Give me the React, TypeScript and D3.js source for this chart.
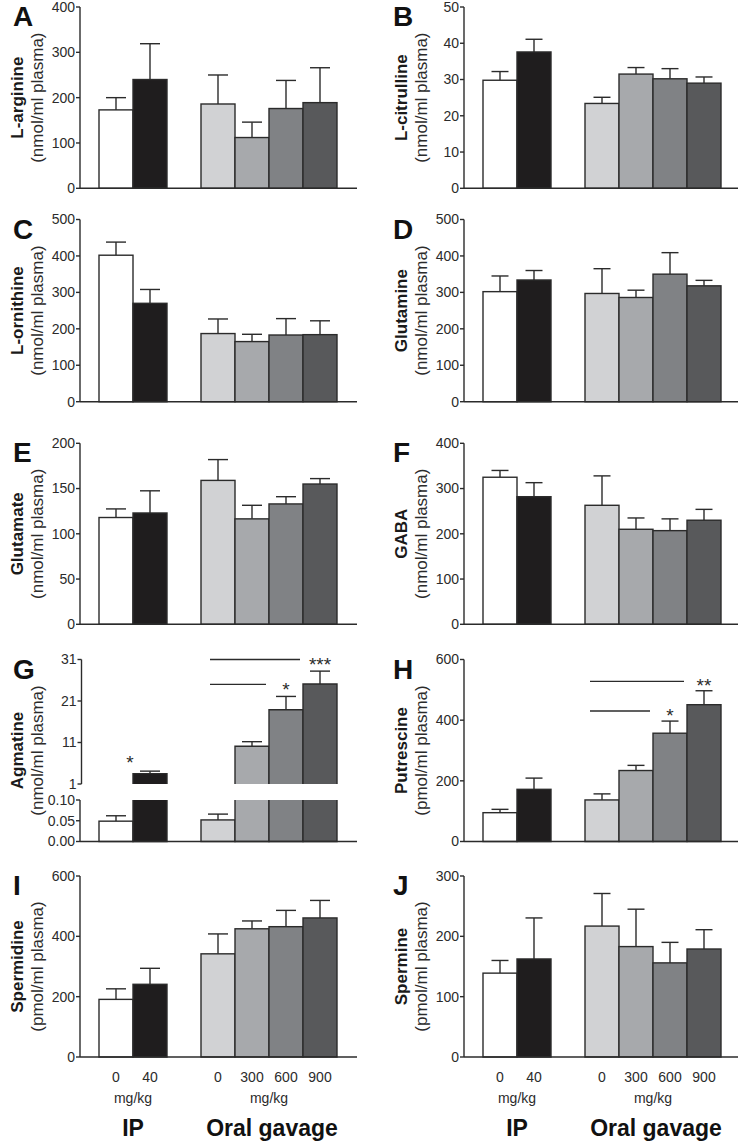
import React from "react";
import * as d3 from "d3";

// ---------------- data ----------------
const slots = ["IP 0", "IP 40", "gap", "Oral 0", "Oral 300", "Oral 600", "Oral 900"];
const groups = ["IP 0", "IP 40", "Oral 0", "Oral 300", "Oral 600", "Oral 900"];
const doseLabels = ["0", "40", "0", "300", "600", "900"];
const routeLabels = ["IP", "Oral gavage"];
const routeGroups = [["IP 0", "IP 40"], ["Oral 0", "Oral 300", "Oral 600", "Oral 900"]];
const unitLabel = "mg/kg";
const groupColors = ["#ffffff", "#1f1d1e", "#d1d2d4", "#a7a9ac", "#808285", "#58595b"];

const argMean = [173, 240, 186, 112, 176, 189];
const argSem = [27, 79, 64, 34, 62, 77];
const citMean = [29.8, 37.6, 23.4, 31.5, 30.2, 29.0];
const citSem = [2.4, 3.5, 1.7, 1.8, 2.8, 1.7];
const ornMean = [402, 270, 187, 165, 183, 184];
const ornSem = [36, 38, 40, 20, 45, 38];
const glnMean = [302, 334, 297, 286, 350, 318];
const glnSem = [43, 26, 68, 20, 59, 15];
const gluMean = [118, 123, 159, 116.5, 133, 155];
const gluSem = [9.5, 24.5, 23, 15, 8, 6];
const gabaMean = [325, 282, 263, 210, 207, 230];
const gabaSem = [15, 31, 65, 25, 26, 24];
const agmMean = [0.049, 3.5, 0.052, 10.1, 18.9, 25.1];
const agmSem = [0.013, 0.6, 0.014, 1.1, 3.2, 3.1];
const putMean = [95, 172, 137, 234, 357, 451];
const putSem = [11, 37, 20, 17, 40, 46];
const spdMean = [191, 241, 342, 425, 432, 461];
const spdSem = [35, 53, 66, 26, 54, 58];
const spmMean = [139, 162.5, 217, 183, 156, 179];
const spmSem = [21, 68, 54, 62, 34, 32];

const ticks400 = [0, 100, 200, 300, 400];
const ticks50 = [0, 10, 20, 30, 40, 50];
const ticks500 = [0, 100, 200, 300, 400, 500];
const ticks200 = [0, 50, 100, 150, 200];
const ticks600 = [0, 200, 400, 600];
const ticks300 = [0, 100, 200, 300];
const agmUpperTicks = [1, 11, 21, 31];
const agmLowerTicks = [0, 0.05, 0.1];

// significance: bracket line from group a to group b (line ends before b), star over b
const agmSig = [
  { from: "Oral 0", to: "Oral 600", level: 25, stars: "*" },
  { from: "Oral 0", to: "Oral 900", level: 31, stars: "***" },
];
const agmIpSig = { group: "IP 40", level: 7.2, stars: "*" };
const putSig = [
  { from: "Oral 0", to: "Oral 600", level: 430, stars: "*" },
  { from: "Oral 0", to: "Oral 900", level: 528, stars: "**" },
];

const panels = [
  { letter: "A", name: "L-arginine", unit: "(nmol/ml plasma)", mean: argMean, sem: argSem, ticks: ticks400, row: 0, col: 0 },
  { letter: "B", name: "L-citrulline", unit: "(nmol/ml plasma)", mean: citMean, sem: citSem, ticks: ticks50, row: 0, col: 1 },
  { letter: "C", name: "L-ornithine", unit: "(nmol/ml plasma)", mean: ornMean, sem: ornSem, ticks: ticks500, row: 1, col: 0 },
  { letter: "D", name: "Glutamine", unit: "(nmol/ml plasma)", mean: glnMean, sem: glnSem, ticks: ticks500, row: 1, col: 1 },
  { letter: "E", name: "Glutamate", unit: "(nmol/ml plasma)", mean: gluMean, sem: gluSem, ticks: ticks200, row: 2, col: 0 },
  { letter: "F", name: "GABA", unit: "(nmol/ml plasma)", mean: gabaMean, sem: gabaSem, ticks: ticks400, row: 2, col: 1 },
  { letter: "G", name: "Agmatine", unit: "(nmol/ml plasma)", mean: agmMean, sem: agmSem, ticks: null, row: 3, col: 0, broken: true },
  { letter: "H", name: "Putrescine", unit: "(pmol/ml plasma)", mean: putMean, sem: putSem, ticks: ticks600, row: 3, col: 1, sig: putSig },
  { letter: "I", name: "Spermidine", unit: "(pmol/ml plasma)", mean: spdMean, sem: spdSem, ticks: ticks600, row: 4, col: 0, xlabels: true },
  { letter: "J", name: "Spermine", unit: "(pmol/ml plasma)", mean: spmMean, sem: spmSem, ticks: ticks300, row: 4, col: 1, xlabels: true },
];

// ---------------- layout ----------------
const W = 738;
const H = 1141;
const rowTop = [7, 219.5, 443.3, 659.5, 876];
const rowBase = [188.3, 401.7, 624.3, 841.5, 1057];
const colAxisX = [80, 464];
const colCap = [10, 8.5];
const agmBreakUpper = 784;
const agmBreakLower = 800;
const FONT = "'Liberation Sans', Arial, Helvetica, sans-serif";
const INK = "#2b2b2b";
const SW = 1.4;

function Panel({ p }: { p: any }) {
  const axisX = colAxisX[p.col];
  const top = rowTop[p.row];
  const base = rowBase[p.row];
  const x = d3
    .scaleBand<string>()
    .domain(slots)
    .range([axisX + 19, axisX + 19 + 7 * 34])
    .paddingInner(0)
    .paddingOuter(0);
  const bw = x.bandwidth();
  const cap = colCap[p.col];
  const labelX = p.col === 0 ? 17 : 401;
  const unitX = labelX + 20;
  const cy = (top + base) / 2;
  const axisEnd = axisX + 277;

  const elements: any[] = [];

  if (!p.broken) {
    const y = d3.scaleLinear().domain([0, p.ticks[p.ticks.length - 1]]).range([base, top]);
    groups.forEach((g, i) => {
      const x0 = x(g)!;
      const v = p.mean[i];
      const e = v + p.sem[i];
      elements.push(
        <g key={g}>
          <line x1={x0 + bw / 2} x2={x0 + bw / 2} y1={y(v)} y2={y(e)} stroke={INK} strokeWidth={SW} />
          <line x1={x0 + bw / 2 - cap} x2={x0 + bw / 2 + cap} y1={y(e)} y2={y(e)} stroke={INK} strokeWidth={SW} />
          <rect x={x0} y={y(v)} width={bw} height={base - y(v)} fill={groupColors[i]} stroke={INK} strokeWidth={SW} />
        </g>
      );
    });
    elements.push(
      <g key="yaxis">
        <line x1={axisX} x2={axisX} y1={top} y2={base} stroke={INK} strokeWidth={SW} />
        {p.ticks.map((t: number) => (
          <g key={t}>
            <line x1={axisX - 4} x2={axisX} y1={y(t)} y2={y(t)} stroke={INK} strokeWidth={SW} />
            <text x={axisX - 5} y={y(t)} dy="0.35em" textAnchor="end" fontSize={14} fill={INK}>
              {t}
            </text>
          </g>
        ))}
      </g>
    );
    if (p.sig) {
      p.sig.forEach((s: any, k: number) => {
        const toIdx = groups.indexOf(s.to);
        const prev = groups[toIdx - 1];
        const xs = x(s.from)! + 5;
        const xe = x(prev)! + bw - 3;
        const ys = y(s.level);
        elements.push(
          <g key={"sig" + k}>
            <line x1={xs} x2={xe} y1={ys} y2={ys} stroke={INK} strokeWidth={SW} />
            <text x={x(s.to)! + bw / 2} y={ys} dy="0.55em" textAnchor="middle" fontSize={19} fill={INK}>
              {s.stars}
            </text>
          </g>
        );
      });
    }
  } else {
    const yU = d3.scaleLinear().domain([1, 31]).range([agmBreakUpper, top]);
    const yL = d3.scaleLinear().domain([0, 0.1]).range([base, agmBreakLower]);
    groups.forEach((g, i) => {
      const x0 = x(g)!;
      const x1 = x0 + bw;
      const v = p.mean[i];
      const e = v + p.sem[i];
      const parts: any[] = [];
      const ye = e <= 0.1 ? yL(e) : yU(e);
      const yv = v <= 0.1 ? yL(v) : yU(v);
      parts.push(<line key="ev" x1={x0 + bw / 2} x2={x0 + bw / 2} y1={yv} y2={ye} stroke={INK} strokeWidth={SW} />);
      parts.push(<line key="ec" x1={x0 + bw / 2 - cap} x2={x0 + bw / 2 + cap} y1={ye} y2={ye} stroke={INK} strokeWidth={SW} />);
      if (v <= 0.1) {
        parts.push(<rect key="lo" x={x0} y={yL(v)} width={bw} height={base - yL(v)} fill={groupColors[i]} stroke={INK} strokeWidth={SW} />);
      } else {
        const lt = yL(0.1);
        parts.push(<rect key="lof" x={x0} y={lt} width={bw} height={base - lt} fill={groupColors[i]} />);
        parts.push(<path key="los" d={`M${x0},${lt}V${base}H${x1}V${lt}`} fill="none" stroke={INK} strokeWidth={SW} />);
        const ut = yU(v);
        const ub = yU(1);
        parts.push(<rect key="upf" x={x0} y={ut} width={bw} height={ub - ut} fill={groupColors[i]} />);
        parts.push(<path key="ups" d={`M${x0},${ub}V${ut}H${x1}V${ub}`} fill="none" stroke={INK} strokeWidth={SW} />);
      }
      elements.push(<g key={g}>{parts}</g>);
    });
    elements.push(
      <g key="yaxis">
        <line x1={axisX + 1.5} x2={axisX + 1.5} y1={top} y2={agmBreakUpper} stroke={INK} strokeWidth={SW} />
        {agmUpperTicks.map((t) => (
          <g key={"u" + t}>
            <line x1={axisX - 2.5} x2={axisX + 1.5} y1={yU(t)} y2={yU(t)} stroke={INK} strokeWidth={SW} />
            <text x={axisX - 3.5} y={yU(t)} dy="0.35em" textAnchor="end" fontSize={14} fill={INK}>
              {t}
            </text>
          </g>
        ))}
        <line x1={axisX} x2={axisX} y1={agmBreakLower} y2={base} stroke={INK} strokeWidth={SW} />
        {agmLowerTicks.map((t) => (
          <g key={"l" + t}>
            <line x1={axisX - 4} x2={axisX} y1={yL(t)} y2={yL(t)} stroke={INK} strokeWidth={SW} />
            <text x={axisX - 5} y={yL(t)} dy="0.35em" textAnchor="end" fontSize={14} fill={INK}>
              {d3.format(".2f")(t)}
            </text>
          </g>
        ))}
      </g>
    );
    agmSig.forEach((s, k) => {
      const toIdx = groups.indexOf(s.to);
      const prev = groups[toIdx - 1];
      const xs = x(s.from)! + 9;
      const xe = x(prev)! + bw - 3;
      const ys = yU(s.level);
      elements.push(
        <g key={"sig" + k}>
          <line x1={xs} x2={xe} y1={ys} y2={ys} stroke={INK} strokeWidth={SW} />
          <text x={x(s.to)! + bw / 2} y={ys} dy="0.6em" textAnchor="middle" fontSize={19} fill={INK}>
            {s.stars}
          </text>
        </g>
      );
    });
    elements.push(
      <text key="ipsig" x={x(agmIpSig.group)! - 3} y={yU(agmIpSig.level)} dy="0.55em" textAnchor="middle" fontSize={19} fill={INK}>
        {agmIpSig.stars}
      </text>
    );
  }

  elements.push(<line key="xaxis" x1={axisX} x2={axisEnd} y1={base} y2={base} stroke={INK} strokeWidth={SW} />);

  elements.push(
    <text key="lbl" transform={`translate(${labelX},${cy}) rotate(-90)`} textAnchor="middle" dy="0.36em" fontSize={17} fontWeight="bold" fill="#1a1a1a">
      {p.name}
    </text>
  );
  elements.push(
    <text key="unit" transform={`translate(${unitX},${cy}) rotate(-90)`} textAnchor="middle" dy="0.36em" fontSize={17} fill={INK}>
      {p.unit}
    </text>
  );
  elements.push(
    <text key="letter" x={p.col === 0 ? 13 : 393} y={top + 19} fontSize={28} fontWeight="bold" fill="#111">
      {p.letter}
    </text>
  );

  if (p.xlabels) {
    groups.forEach((g, i) => {
      elements.push(
        <text key={"xl" + g} x={x(g)! + bw / 2} y={base + 25} textAnchor="middle" fontSize={14} fill={INK}>
          {doseLabels[i]}
        </text>
      );
    });
    routeGroups.forEach((rg, k) => {
      const cx = (x(rg[0])! + x(rg[rg.length - 1])! + bw) / 2;
      elements.push(
        <text key={"mg" + k} x={cx} y={base + 46} textAnchor="middle" fontSize={14} fill={INK}>
          {unitLabel}
        </text>
      );
      elements.push(
        <text key={"rt" + k} x={cx + (k === 1 ? 3 : 0)} y={base + 79} textAnchor="middle" fontSize={23} fontWeight="bold" fill="#111">
          {routeLabels[k]}
        </text>
      );
    });
  }

  return <g>{elements}</g>;
}

export default function App() {
  return (
    <svg
      width={W}
      height={H}
      viewBox={`0 0 ${W} ${H}`}
      style={{ position: "absolute", left: 0, top: 0, background: "#fff" }}
      fontFamily={FONT}
    >
      <rect x={0} y={0} width={W} height={H} fill="#fff" />
      {panels.map((p) => (
        <Panel key={p.letter} p={p} />
      ))}
    </svg>
  );
}
